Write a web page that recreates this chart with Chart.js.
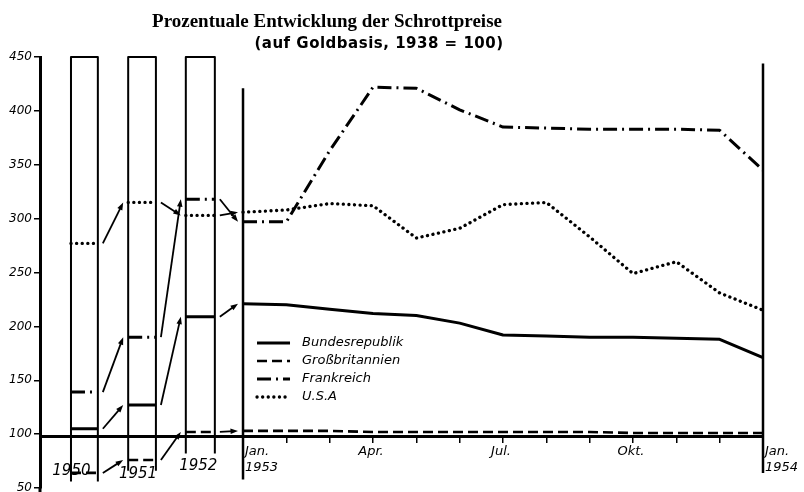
<!DOCTYPE html>
<html>
<head>
<meta charset="utf-8">
<title>Schrottpreise</title>
<script src="https://cdn.jsdelivr.net/npm/chart.js@4.4.1/dist/chart.umd.min.js"></script>
<style>
  html, body { margin: 0; padding: 0; background: #fff; }
  #wrap { width: 804px; height: 492px; }
</style>
</head>
<body>
<div id="wrap"><canvas id="myChart"></canvas></div>
<script>
// values (Goldbasis, 1938 = 100)
var years = ['1950', '1951', '1952'];
var months = ['Jan.\n1953', '', '', 'Apr.', '', '', 'Jul.', '', '', 'Okt.', '', '', 'Jan.\n1954'];
var yTicks = [50, 100, 150, 200, 250, 300, 350, 400, 450];
var seriesNames = ['Bundesrepublik', 'Großbritannien', 'Frankreich', 'U.S.A'];

var brdYears = [105, 127, 209];
var gbYears = [64, 76, 102];
var frYears = [139, 190, 318];
var usaYears = [277, 315, 303];

var brdMonths = [221, 220, 216, 212, 210, 203, 192, 191, 190, 190, 189, 188, 171];
var gbMonths = [103, 103, 103, 102, 102, 102, 102, 102, 102, 101, 101, 101, 101];
var frMonths = [297, 297, 363, 422, 421, 401, 385, 384, 383, 383, 383, 382, 345];
var usaMonths = [306, 308, 314, 312, 282, 291, 313, 315, 283, 249, 260, 231, 215];

// layout: x scale runs in months, Jan 1953 = 0; the year boxes sit left of it
var xMin = -4.685;
var yearSlots = [[-3.97, -3.35], [-2.65, -2.01], [-1.32, -0.65]];
var boxBottoms = [56, 66, 82];
var yearLabelNudge = [[-13, 35], [-4, 38], [-2, 30]];
var axisAt = 98;

function buildPoints(yearVals, monthVals) {
    var pts = [];
    yearVals.forEach(function (v, i) {
        var next = yearSlots[i + 1] ? yearSlots[i + 1][0] : 0;
        pts.push({x: yearSlots[i][0], y: v});
        pts.push({x: yearSlots[i][1], y: v});
        pts.push({x: (yearSlots[i][1] + next) / 2, y: null}); // break between boxes
    });
    monthVals.forEach(function (v, i) {
        pts.push({x: i, y: v});
    });
    return pts;
}

function makeSet(name, yearVals, monthVals, dash, width, cap) {
    return {
        label: name,
        data: buildPoints(yearVals, monthVals),
        yearVals: yearVals,
        monthVals: monthVals,
        borderColor: '#000',
        borderWidth: width,
        borderDash: dash,
        borderCapStyle: cap,
        borderJoinStyle: 'round',
        pointRadius: 0,
        tension: 0,
        fill: false
    };
}

var FONT = '"DejaVu Sans", sans-serif';

function arrow(ctx, x1, y1, x2, y2) {
    var a = Math.atan2(y2 - y1, x2 - x1);
    var h = 8;
    ctx.beginPath();
    ctx.moveTo(x1, y1);
    ctx.lineTo(x2 - Math.cos(a) * 4, y2 - Math.sin(a) * 4);
    ctx.stroke();
    ctx.beginPath();
    ctx.moveTo(x2, y2);
    ctx.lineTo(x2 - h * Math.cos(a - 0.35), y2 - h * Math.sin(a - 0.35));
    ctx.lineTo(x2 - h * Math.cos(a + 0.35), y2 - h * Math.sin(a + 0.35));
    ctx.closePath();
    ctx.fill();
}

// boxes for the years and the two Jan verticals
var framePlugin = {
    id: 'frames',
    beforeDatasetsDraw: function (chart) {
        var ctx = chart.ctx, xs = chart.scales.x, ys = chart.scales.y;
        ctx.save();
        ctx.strokeStyle = '#000';
        ctx.lineWidth = 2;
        ctx.lineJoin = 'round';
        yearSlots.forEach(function (s, i) {
            var l = xs.getPixelForValue(s[0]), r = xs.getPixelForValue(s[1]);
            var t = ys.getPixelForValue(450), b = ys.getPixelForValue(boxBottoms[i]);
            ctx.beginPath();
            ctx.moveTo(l, b);
            ctx.lineTo(l, t);
            ctx.lineTo(r, t);
            ctx.lineTo(r, b);
            ctx.stroke();
        });
        ctx.lineWidth = 2.5;
        ctx.beginPath();
        ctx.moveTo(xs.getPixelForValue(0), ys.getPixelForValue(421));
        ctx.lineTo(xs.getPixelForValue(0), ys.getPixelForValue(58));
        ctx.moveTo(xs.getPixelForValue(12), ys.getPixelForValue(444));
        ctx.lineTo(xs.getPixelForValue(12), ys.getPixelForValue(64));
        ctx.stroke();
        // y axis runs on to the bottom edge
        ctx.lineWidth = 3;
        ctx.beginPath();
        ctx.moveTo(chart.chartArea.left, chart.chartArea.bottom);
        ctx.lineTo(chart.chartArea.left, chart.height);
        ctx.stroke();
        ctx.restore();
    }
};

// arrows, labels, title, legend
var textPlugin = {
    id: 'texts',
    afterDraw: function (chart) {
        var ctx = chart.ctx, xs = chart.scales.x, ys = chart.scales.y;
        ctx.save();
        ctx.strokeStyle = '#000';
        ctx.fillStyle = '#000';
        ctx.lineWidth = 1.8;
        ctx.setLineDash([]);
        chart.data.datasets.forEach(function (ds) {
            for (var i = 0; i < ds.yearVals.length; i++) {
                var nextX = yearSlots[i + 1] ? yearSlots[i + 1][0] : 0;
                var nextV = i + 1 < ds.yearVals.length ? ds.yearVals[i + 1] : ds.monthVals[0];
                arrow(ctx,
                    xs.getPixelForValue(yearSlots[i][1]) + 5, ys.getPixelForValue(ds.yearVals[i]),
                    xs.getPixelForValue(nextX) - 5, ys.getPixelForValue(nextV));
            }
        });

        // y tick labels
        ctx.font = 'italic 12px ' + FONT;
        ctx.textAlign = 'right';
        ctx.textBaseline = 'middle';
        yTicks.forEach(function (v) {
            ctx.fillText(String(v), chart.chartArea.left - 8, ys.getPixelForValue(v));
        });

        var axisY = ys.getPixelForValue(axisAt);
        ctx.font = 'italic 13px ' + FONT;
        months.forEach(function (m, i) {
            if (!m) return;
            var x = xs.getPixelForValue(i);
            var lines = m.split('\n');
            ctx.textAlign = lines.length > 1 ? 'left' : 'center';
            lines.forEach(function (line, k) {
                ctx.fillText(line, lines.length > 1 ? x + 2 : x - 2, axisY + 15 + k * 16);
            });
        });
        ctx.font = 'italic 15px ' + FONT;
        ctx.textAlign = 'center';
        years.forEach(function (y, i) {
            var c = (xs.getPixelForValue(yearSlots[i][0]) + xs.getPixelForValue(yearSlots[i][1])) / 2;
            ctx.fillText(y, c + yearLabelNudge[i][0], axisY + yearLabelNudge[i][1]);
        });

        // title
        ctx.textAlign = 'center';
        ctx.textBaseline = 'alphabetic';
        ctx.font = 'bold 19px "Liberation Serif", serif';
        ctx.fillText('Prozentuale Entwicklung der Schrottpreise', 327, 27);
        ctx.font = 'bold 15px ' + FONT;
        ctx.letterSpacing = '0.5px';
        ctx.fillText('(auf Goldbasis, 1938 = 100)', 379, 48);
        ctx.letterSpacing = '0px';

        // legend
        var lx = xs.getPixelForValue(0) + 14, ly = 343;
        chart.data.datasets.forEach(function (ds, i) {
            var y = ly + i * 18;
            ctx.lineWidth = ds.borderWidth;
            ctx.lineCap = ds.borderCapStyle;
            ctx.setLineDash(ds.borderDash);
            ctx.beginPath();
            ctx.moveTo(lx, y);
            ctx.lineTo(lx + 33, y);
            ctx.stroke();
            ctx.setLineDash([]);
            ctx.font = 'italic 13px ' + FONT;
            ctx.textAlign = 'left';
            ctx.textBaseline = 'middle';
            ctx.fillText(ds.label, lx + 45, y);
        });
        ctx.restore();
    }
};

var graphData = {
    type: 'line',
    data: {
        datasets: [
            makeSet(seriesNames[0], brdYears, brdMonths, [], 3, 'butt'),
            makeSet(seriesNames[1], gbYears, gbMonths, [10, 5], 2.6, 'butt'),
            makeSet(seriesNames[2], frYears, frMonths, [14, 5, 2, 5], 3, 'butt'),
            makeSet(seriesNames[3], usaYears, usaMonths, [0.1, 5.5], 3.3, 'round')
        ]
    },
    options: {
        responsive: false,
        animation: false,
        layout: {padding: {top: 57, right: 41, bottom: 4, left: 0}},
        plugins: {legend: {display: false}, title: {display: false}, tooltip: {enabled: false}},
        scales: {
            x: {
                type: 'linear',
                min: xMin,
                max: 12,
                position: {y: axisAt},
                afterBuildTicks: function (scale) {
                    scale.ticks = months.map(function (m, i) { return {value: i}; });
                },
                ticks: {display: false},
                grid: {drawOnChartArea: false, drawTicks: true, tickLength: 5, color: '#000', lineWidth: 1.5},
                border: {display: true, color: '#000', width: 3}
            },
            y: {
                type: 'linear',
                min: 50,
                max: 450,
                afterBuildTicks: function (scale) {
                    scale.ticks = yTicks.map(function (v) { return {value: v}; });
                },
                afterFit: function (scale) {
                    scale.width = 40;
                    scale.paddingTop = 0;
                    scale.paddingBottom = 0;
                },
                ticks: {display: false},
                grid: {drawOnChartArea: false, drawTicks: true, tickLength: 6, color: '#000', lineWidth: 1.5},
                border: {display: true, color: '#000', width: 3}
            }
        }
    },
    plugins: [framePlugin, textPlugin]
};

var canvas = document.getElementById('myChart');
canvas.width = 804;
canvas.height = 492;
var myChart = new Chart(canvas, graphData);
</script>
</body>
</html>
